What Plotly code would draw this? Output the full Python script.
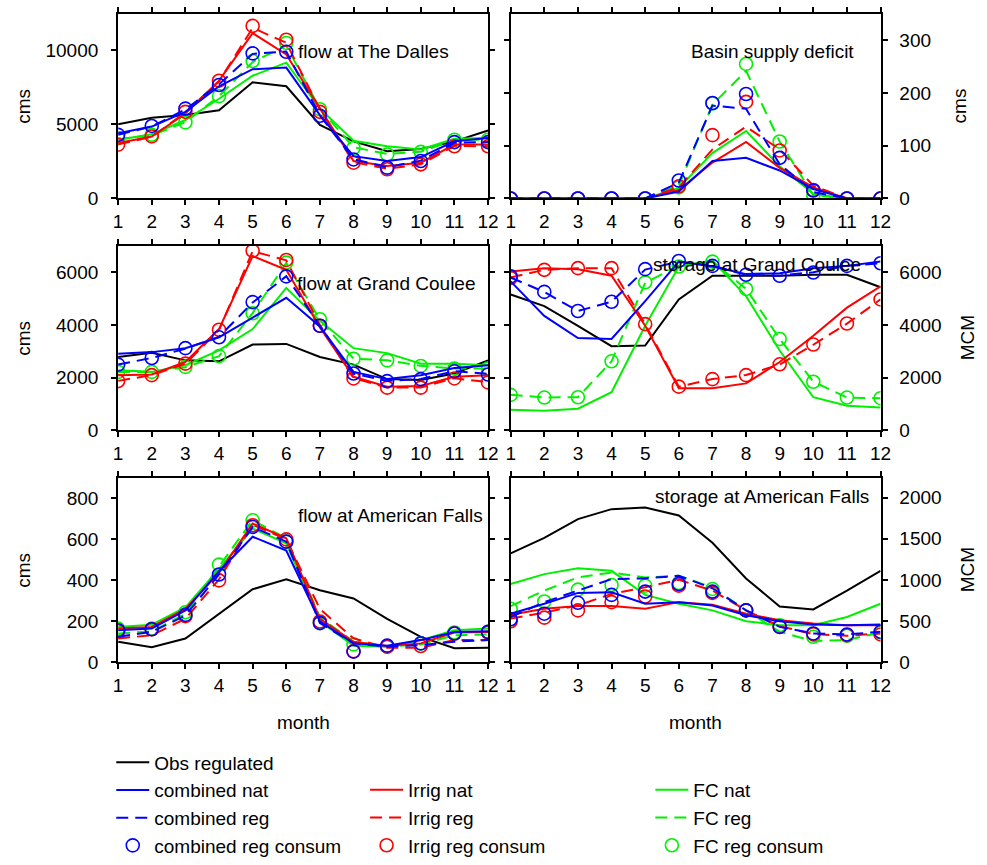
import plotly.graph_objects as go

months = [1, 2, 3, 4, 5, 6, 7, 8, 9, 10, 11, 12]

# flow at The Dalles (cms)
td_obs = [5000, 5440, 5620, 5950, 7830, 7565, 4955, 3850, 3185, 3340, 3850, 4580]
td_cn = [4400, 4845, 5840, 7565, 8715, 8826, 5620, 2853, 2520, 2787, 3850, 4070]
td_cr = [4300, 4850, 6000, 7700, 9750, 9900, 5600, 2650, 2100, 2550, 3750, 3800]
td_cc = [4290, 4890, 6060, 7650, 9780, 9890, 5575, 2630, 2080, 2520, 3800, 3800]
td_in = [3740, 4180, 5730, 7940, 11150, 9710, 6060, 2520, 2190, 2410, 3630, 3630]
td_ir = [3650, 4150, 5800, 7900, 11500, 10500, 6000, 2450, 2000, 2300, 3550, 3500]
td_ic = [3630, 4180, 5840, 7940, 11635, 10705, 5840, 2410, 1970, 2300, 3520, 3520]
td_fn = [3960, 4335, 5290, 6725, 8275, 9160, 6060, 3890, 3520, 3300, 4025, 4070]
td_fr = [4000, 4250, 5150, 6900, 9200, 10300, 6050, 3450, 3000, 3150, 3950, 3950]
td_fc = [4070, 4290, 5130, 6900, 9270, 10485, 6017, 3406, 2964, 3140, 3960, 3960]

# Basin supply deficit (cms)
bsd_cn = [0, 0, 0, 0, 0, 13, 71, 77, 53, 18, 0, 0]
bsd_cr = [0, 0, 0, 0, 0, 30, 176, 170, 65, 12, 0, 0]
bsd_cc = [0, 0, 0, 0, 0, 34, 181, 198, 77, 15, 0, 0]
bsd_in = [0, 0, 0, 0, 0, 16, 68, 107, 58, 21, 0, 0]
bsd_ir = [0, 0, 0, 0, 0, 21, 93, 136, 93, 24, 0, 0]
bsd_ic = [0, 0, 0, 0, 0, 23, 120, 183, 91, 16, 0, 0]
bsd_fn = [0, 0, 0, 0, 0, 20, 86, 128, 61, 9, 0, 0]
bsd_fr = [0, 0, 0, 0, 0, 24, 178, 242, 108, 6, 0, 0]
bsd_fc = [0, 0, 0, 0, 0, 21, 180, 255, 108, 6, 0, 0]

# flow at Grand Coulee (cms)
gcf_obs = [2783, 2945, 2658, 2620, 3257, 3282, 2783, 2496, 1947, 1910, 2159, 2658]
gcf_cn = [2908, 2970, 3120, 3532, 4280, 5030, 3944, 2221, 1947, 2097, 2371, 2471]
gcf_cr = [2500, 2750, 3100, 3550, 4850, 5850, 3950, 2150, 1880, 1950, 2250, 2150]
gcf_cc = [2496, 2746, 3120, 3532, 4867, 5840, 3969, 2159, 1872, 1947, 2246, 2121]
gcf_in = [2097, 2121, 2596, 3844, 6614, 6090, 3906, 2034, 1660, 1685, 2034, 2097]
gcf_ir = [1880, 2100, 2530, 3800, 6800, 6450, 4000, 1980, 1630, 1630, 1980, 1830]
gcf_ic = [1872, 2097, 2533, 3819, 6814, 6465, 3969, 1972, 1622, 1622, 1972, 1822]
gcf_fn = [2284, 2221, 2471, 3033, 3844, 5404, 4156, 3120, 2933, 2533, 2533, 2471]
gcf_fr = [2220, 2220, 2400, 2820, 4450, 6350, 4200, 2720, 2660, 2450, 2350, 2350]
gcf_fc = [2221, 2221, 2409, 2820, 4443, 6365, 4218, 2721, 2658, 2446, 2346, 2346]

# storage at Grand Coulee (MCM)
gcs_obs = [5154, 4717, 3969, 3195, 3220, 4967, 5866, 5866, 5866, 5903, 5903, 5429]
gcs_cn = [5653, 4343, 3507, 3469, 4905, 6402, 6215, 5928, 5965, 6153, 6240, 6402]
gcs_cr = [5800, 5250, 4530, 4880, 6100, 6400, 6250, 5900, 5870, 6000, 6240, 6340]
gcs_cc = [5840, 5254, 4530, 4880, 6115, 6427, 6240, 5903, 5866, 5990, 6240, 6340]
gcs_in = [6028, 6153, 6115, 5866, 3969, 1597, 1597, 1785, 2596, 3594, 4655, 5466]
gcs_ir = [5800, 6090, 6150, 6150, 4030, 1660, 1950, 2100, 2500, 3250, 4050, 4970]
gcs_ic = [5778, 6090, 6153, 6153, 4031, 1660, 1947, 2097, 2508, 3257, 4056, 4967]
gcs_fn = [786, 749, 824, 1448, 3969, 6215, 6440, 5092, 3033, 1260, 936, 874]
gcs_fr = [1350, 1250, 1260, 2620, 5600, 6250, 6400, 5370, 3470, 1850, 1250, 1220]
gcs_fc = [1348, 1248, 1260, 2621, 5616, 6215, 6402, 5366, 3469, 1847, 1248, 1223]

# flow at American Falls (cms)
aff_obs = [101, 74, 117, 237, 357, 405, 352, 312, 213, 125, 69, 72]
aff_cn = [157, 165, 253, 445, 613, 546, 200, 93, 82, 109, 149, 152]
aff_cr = [125, 149, 229, 429, 661, 589, 192, 93, 77, 85, 101, 109]
aff_cc = [157, 162, 232, 429, 661, 589, 192, 53, 82, 93, 141, 149]
aff_in = [165, 173, 261, 437, 677, 605, 213, 101, 80, 93, 146, 149]
aff_ir = [117, 133, 213, 405, 672, 600, 261, 117, 72, 72, 109, 109]
aff_ic = [152, 162, 226, 400, 669, 600, 200, 55, 77, 80, 141, 146]
aff_fn = [173, 184, 269, 456, 653, 581, 200, 82, 77, 109, 157, 165]
aff_fr = [141, 152, 237, 469, 693, 605, 221, 101, 77, 88, 133, 136]
aff_fc = [165, 165, 245, 477, 693, 589, 194, 88, 77, 93, 146, 149]

# storage at American Falls (MCM)
afs_obs = [1324, 1512, 1740, 1860, 1880, 1784, 1452, 1020, 680, 644, 872, 1112]
afs_cn = [592, 712, 844, 852, 712, 732, 692, 572, 500, 460, 452, 460]
afs_cr = [552, 732, 872, 1012, 1020, 1052, 900, 632, 432, 352, 340, 372]
afs_cc = [524, 592, 724, 820, 860, 952, 860, 632, 432, 352, 340, 372]
afs_in = [580, 652, 684, 684, 652, 732, 700, 592, 512, 472, 452, 452]
afs_ir = [532, 604, 692, 832, 912, 1004, 872, 632, 440, 344, 324, 352]
afs_ic = [500, 544, 632, 732, 800, 932, 844, 632, 432, 344, 332, 340]
afs_fn = [952, 1072, 1144, 1112, 820, 712, 632, 500, 452, 452, 552, 712]
afs_fr = [684, 872, 1032, 1092, 1032, 1052, 912, 632, 372, 260, 272, 364]
afs_fc = [652, 740, 884, 940, 932, 964, 892, 632, 452, 312, 324, 364]

panel_titles = ["flow at The Dalles", "Basin supply deficit", "flow at Grand Coulee",
                "storage at Grand Coulee", "flow at American Falls", "storage at American Falls"]
y_units = ["cms", "cms", "cms", "MCM", "cms", "MCM"]
y_ranges = [[0, 12450], [0, 350], [0, 7000], [0, 7000], [0, 900], [0, 2240]]
y_ticks = [[0, 5000, 10000], [0, 100, 200, 300], [0, 2000, 4000, 6000],
           [0, 2000, 4000, 6000], [0, 200, 400, 600, 800], [0, 500, 1000, 1500, 2000]]

panels = [
    dict(obs=td_obs, cn=td_cn, cr=td_cr, cc=td_cc, inat=td_in, ir=td_ir, ic=td_ic, fn=td_fn, fr=td_fr, fc=td_fc),
    dict(obs=None, cn=bsd_cn, cr=bsd_cr, cc=bsd_cc, inat=bsd_in, ir=bsd_ir, ic=bsd_ic, fn=bsd_fn, fr=bsd_fr, fc=bsd_fc),
    dict(obs=gcf_obs, cn=gcf_cn, cr=gcf_cr, cc=gcf_cc, inat=gcf_in, ir=gcf_ir, ic=gcf_ic, fn=gcf_fn, fr=gcf_fr, fc=gcf_fc),
    dict(obs=gcs_obs, cn=gcs_cn, cr=gcs_cr, cc=gcs_cc, inat=gcs_in, ir=gcs_ir, ic=gcs_ic, fn=gcs_fn, fr=gcs_fr, fc=gcs_fc),
    dict(obs=aff_obs, cn=aff_cn, cr=aff_cr, cc=aff_cc, inat=aff_in, ir=aff_ir, ic=aff_ic, fn=aff_fn, fr=aff_fr, fc=aff_fc),
    dict(obs=afs_obs, cn=afs_cn, cr=afs_cr, cc=afs_cc, inat=afs_in, ir=afs_ir, ic=afs_ic, fn=afs_fn, fr=afs_fr, fc=afs_fc),
]

W, H = 987, 865
FONT = "Liberation Sans, Arial, sans-serif"
FS = 19
BLUE, RED, GREEN, BLACK = "#0000ff", "#ff0000", "#00f000", "#000000"
DASH = "12px,7px"

def px(x):
    return x / W

def py(y):
    return 1 - y / H

col_dom = [[px(115), px(491)], [px(514), px(890)]]
row_dom = [[py(201), py(14)], [py(436), py(249)], [py(671), py(484)]]

fig = go.Figure()

groups = [
    ("fn", "fr", "fc", GREEN, "legend3", ["FC nat", "FC reg", "FC reg consum"]),
    ("inat", "ir", "ic", RED, "legend2", ["Irrig nat", "Irrig reg", "Irrig reg consum"]),
    ("cn", "cr", "cc", BLUE, "legend", ["combined nat", "combined reg", "combined reg consum"]),
]

for i, p in enumerate(panels):
    ax = "" if i == 0 else str(i + 1)
    xa, ya = "x" + ax, "y" + ax
    first = (i == 0)
    if p["obs"] is not None:
        fig.add_trace(go.Scatter(x=months, y=p["obs"], mode="lines", name="Obs regulated",
                                 line=dict(color=BLACK, width=2), xaxis=xa, yaxis=ya,
                                 showlegend=first, legend="legend", legendrank=1))
    for kn, kr, kc, col, leg, names in groups:
        fig.add_trace(go.Scatter(x=months, y=p[kn], mode="lines", name=names[0],
                                 line=dict(color=col, width=2), xaxis=xa, yaxis=ya,
                                 showlegend=first, legend=leg, legendrank=2))
        fig.add_trace(go.Scatter(x=months, y=p[kr], mode="lines", name=names[1],
                                 line=dict(color=col, width=2, dash=DASH), xaxis=xa, yaxis=ya,
                                 showlegend=first, legend=leg, legendrank=3))
        fig.add_trace(go.Scatter(x=months, y=p[kc], mode="markers", name=names[2],
                                 marker=dict(symbol="circle-open", size=13, color=col,
                                             line=dict(color=col, width=1.6)),
                                 xaxis=xa, yaxis=ya,
                                 showlegend=first, legend=leg, legendrank=4))

layout = dict(
    width=W, height=H, autosize=False,
    margin=dict(l=0, r=0, t=0, b=0),
    paper_bgcolor="white", plot_bgcolor="white",
    font=dict(family=FONT, size=FS, color="black"),
    showlegend=True,
)

annotations = []
for i in range(6):
    r, c = divmod(i, 2)
    ax = "" if i == 0 else str(i + 1)
    layout["xaxis" + ax] = dict(
        domain=col_dom[c], anchor="y" + ax, range=[1, 12],
        tickmode="array", tickvals=months, ticktext=[str(m) for m in months],
        ticks="outside", ticklen=5, tickwidth=1.5, tickcolor="black",
        showline=True, linecolor="black", linewidth=2, mirror="ticks",
        showgrid=False, zeroline=False, tickfont=dict(size=FS, family=FONT),
    )
    layout["yaxis" + ax] = dict(
        domain=row_dom[r], anchor="x" + ax, range=y_ranges[i],
        tickmode="array", tickvals=y_ticks[i], ticktext=[str(v) for v in y_ticks[i]],
        side="left" if c == 0 else "right",
        ticks="outside", ticklen=5, tickwidth=1.5, tickcolor="black",
        ticklabelstandoff=9 if c == 0 else 8,
        showline=True, linecolor="black", linewidth=2, mirror="ticks",
        showgrid=False, zeroline=False, tickfont=dict(size=FS, family=FONT),
    )
    ymid = (row_dom[r][0] + row_dom[r][1]) / 2
    annotations.append(dict(
        text=y_units[i], x=px(18) if c == 0 else px(970 if y_units[i] == "cms" else 978),
        y=ymid, xref="paper", yref="paper", showarrow=False, textangle=-90,
        xanchor="center", yanchor="middle", font=dict(size=FS, family=FONT)))

title_pos = [(453, 52), (865, 52), (481, 287), (872, 268), (488, 522), (880, 503)]
for i, (tx, ty) in enumerate(title_pos):
    annotations.append(dict(text=panel_titles[i], x=px(tx), y=py(ty), xref="paper", yref="paper",
                            showarrow=False, xanchor="right", yanchor="middle",
                            font=dict(size=FS, family=FONT)))

for cx in (303, 702):
    annotations.append(dict(text="month", x=px(cx), y=py(732), xref="paper", yref="paper",
                            showarrow=False, xanchor="center", yanchor="middle",
                            font=dict(size=FS, family=FONT)))

layout["annotations"] = annotations

leg_common = dict(bgcolor="rgba(0,0,0,0)", borderwidth=0, font=dict(size=FS, family=FONT),
                  xanchor="left", yanchor="top", orientation="v", itemwidth=33,
                  traceorder="normal", tracegroupgap=0)
layout["legend"] = dict(x=px(108), y=py(753), **leg_common)
layout["legend2"] = dict(x=px(366), y=py(781), **leg_common)
layout["legend3"] = dict(x=px(656), y=py(781), **leg_common)

fig.update_layout(**layout)
fig.write_html("out.html")
